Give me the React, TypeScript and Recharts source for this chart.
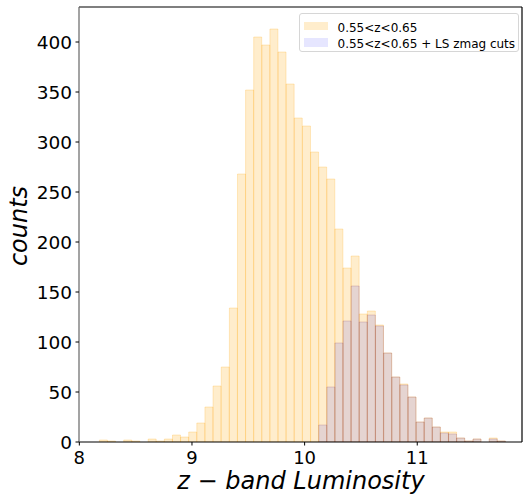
import { BarChart, Bar, XAxis, YAxis } from 'recharts';

// ── Data (histogram, 50 bins) ────────────────────────────────────────────────

const BIN_CENTERS = [
  8.214, 8.286, 8.358, 8.430, 8.502, 8.575, 8.647, 8.719, 8.791, 8.863,
  8.935, 9.007, 9.079, 9.151, 9.223, 9.296, 9.368, 9.440, 9.512, 9.584,
  9.656, 9.728, 9.800, 9.872, 9.944, 10.017, 10.089, 10.161, 10.233, 10.305,
  10.377, 10.449, 10.521, 10.593, 10.665, 10.738, 10.810, 10.882, 10.954, 11.026,
  11.098, 11.170, 11.242, 11.314, 11.386, 11.459, 11.531, 11.603, 11.675, 11.747,
];

const ALL_COUNTS = [
  2, 1, 0, 2, 1, 0, 3, 1, 3, 7,
  5, 10, 19, 35, 56, 75, 134, 268, 352, 405,
  397, 413, 390, 358, 324, 316, 290, 275, 263, 213,
  174, 186, 128, 131, 117, 89, 65, 58, 45, 20,
  24, 15, 10, 10, 4, 1, 3, 0, 4, 1,
];

const CUT_COUNTS = [
  0, 0, 0, 0, 0, 0, 0, 0, 0, 0,
  0, 0, 0, 0, 0, 0, 0, 0, 0, 0,
  0, 0, 0, 0, 0, 0, 0, 17, 55, 99,
  121, 156, 120, 127, 116, 89, 65, 57, 45, 20,
  24, 15, 9, 8, 4, 1, 3, 0, 3, 1,
];

const X_TICKS = [8, 9, 10, 11];
const Y_TICKS = [0, 50, 100, 150, 200, 250, 300, 350, 400];

const SERIES = [
  { key: 'all', label: '0.55<z<0.65', fill: 'rgba(255,165,0,0.2)', swatch: '#ffedcc' },
  { key: 'cut', label: '0.55<z<0.65 + LS zmag cuts', fill: 'rgba(0,0,255,0.1)', swatch: '#e6e6ff' },
];

const FONT = '"DejaVu Sans", sans-serif';
const X_DOMAIN: [number, number] = [7.997, 11.93];

const data = BIN_CENTERS.map((x, i) => ({
  x,
  all: ALL_COUNTS[i] || null,
  cut: CUT_COUNTS[i] || null,
}));

// ── Legend box ───────────────────────────────────────────────────────────────

function HistLegend() {
  return (
    <div style={{
      position: 'absolute', left: 299, top: 13, width: 218, height: 37,
      border: '1px solid #d6d6d6', borderRadius: 3, background: 'rgba(255,255,255,0.8)',
      fontFamily: FONT, fontSize: 12, color: '#000',
    }}>
      {SERIES.map((s, i) => (
        <div key={s.key} style={{ position: 'absolute', left: 4, top: 5 + i * 16.5, height: 14, display: 'flex', alignItems: 'center' }}>
          <span style={{ width: 24, height: 8.5, background: s.swatch, display: 'inline-block' }} />
          <span style={{ marginLeft: 9.5, whiteSpace: 'nowrap', lineHeight: '14px', position: 'relative', top: 1.5 }}>{s.label}</span>
        </div>
      ))}
    </div>
  );
}

export default function App() {
  return (
    <div style={{ position: 'absolute', left: 0, top: 0, width: 523, height: 498 }}>
      <BarChart
        width={523} height={498} data={data}
        margin={{ top: 6, right: 0, left: 0, bottom: 0 }}
        barCategoryGap={0} barGap={0}
      >
        <XAxis
          xAxisId="a" type="number" dataKey="x" domain={X_DOMAIN} allowDataOverflow
          ticks={X_TICKS} height={56} tickSize={3.5} tickMargin={5.5}
          tick={{ fontSize: 18, fill: '#000', fontFamily: FONT }}
          tickLine={{ stroke: '#000' }} axisLine={{ stroke: '#000', strokeWidth: 1.2 }}
        />
        <XAxis xAxisId="b" type="number" dataKey="x" domain={X_DOMAIN} allowDataOverflow hide />
        <XAxis xAxisId="top" orientation="top" type="number" dataKey="x" domain={X_DOMAIN} allowDataOverflow
          height={1} ticks={X_TICKS} tick={false} tickLine={false} axisLine={{ stroke: '#000', strokeWidth: 1.2 }} />
        <YAxis
          type="number" domain={[0, 435]} ticks={Y_TICKS} width={79} allowDataOverflow
          tickSize={3.5} tickMargin={3.5}
          tick={{ fontSize: 18.5, fill: '#000', fontFamily: FONT }}
          tickLine={{ stroke: '#000' }} axisLine={{ stroke: '#666', strokeWidth: 1.2 }}
        />
        <YAxis yAxisId="r" orientation="right" type="number" domain={[0, 435]} ticks={Y_TICKS} width={1}
          tick={false} tickLine={false} axisLine={{ stroke: '#000', strokeWidth: 1.2 }} />

        <Bar xAxisId="a" dataKey="all" fill={SERIES[0].fill} stroke="rgba(255,165,0,0.22)" strokeWidth={1} isAnimationActive={false} />
        <Bar xAxisId="b" dataKey="cut" fill={SERIES[1].fill} stroke="rgba(130,50,80,0.2)" strokeWidth={1} isAnimationActive={false} />

        <text x={301} y={489} textAnchor="middle" fontFamily={FONT} fontStyle="italic" fontSize={24} fill="#000">
          z − band Luminosity
        </text>
        <text transform="translate(27,226) rotate(-90)" textAnchor="middle" fontFamily={FONT} fontStyle="italic" fontSize={24} fill="#000">
          counts
        </text>
      </BarChart>
      <HistLegend />
    </div>
  );
}
